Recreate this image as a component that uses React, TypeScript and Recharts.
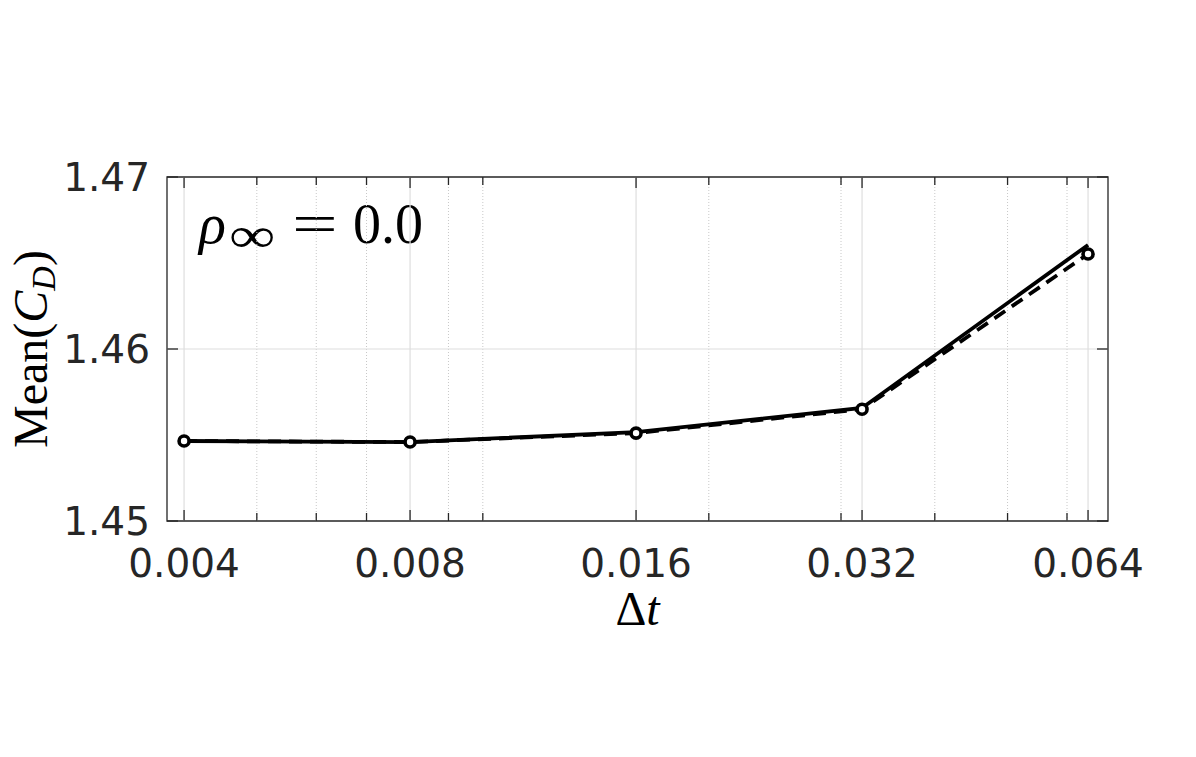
import {
  LineChart,
  Line,
  XAxis,
  YAxis,
  ReferenceLine,
  ReferenceArea,
  Label,
} from "recharts";

// time step sizes (log axis)
const dt = [0.004, 0.008, 0.016, 0.032, 0.064];
// mean drag coefficient, two schemes
const meanCdSolid = [1.45465, 1.45459, 1.45517, 1.45657, 1.46605];
const meanCdDashed = [1.45465, 1.45459, 1.45511, 1.4565, 1.46552];

const xMajorTicks = [0.004, 0.008, 0.016, 0.032, 0.064];
const xMinorTicks = [0.005, 0.006, 0.007, 0.009, 0.01, 0.02, 0.03, 0.04, 0.05, 0.06];
const yTicks = [1.45, 1.46, 1.47];

const X_DOMAIN: [number, number] = [0.003796, 0.06804];
const Y_DOMAIN: [number, number] = [1.45, 1.47];

const W = 1196;
const H = 757;
const MARGIN = { top: 177, right: 88, bottom: 0, left: 0 };
const Y_AXIS_W = 167;
const X_AXIS_H = 236;
const PW = W - MARGIN.right - Y_AXIS_W;
const PH = H - MARGIN.top - X_AXIS_H;

const AXIS = "#262626";
const GRID = "#dedede";
const SANS = "'DejaVu Sans', sans-serif";
const SERIF = "'Liberation Serif', 'DejaVu Serif', serif";

const data = dt.map((x, i) => ({
  dt: x,
  solid: meanCdSolid[i],
  dashed: meanCdDashed[i],
}));

const fmtX = (v: number) => v.toFixed(3);

function XTick(props: any) {
  const { x, y, payload } = props;
  const major = xMajorTicks.includes(payload.value);
  const len = major ? 11 : 8;
  return (
    <g>
      <line x1={x} x2={x} y1={y} y2={y - len} stroke={AXIS} strokeWidth={1.3} />
      <line x1={x} x2={x} y1={y - PH} y2={y - PH + len} stroke={AXIS} strokeWidth={1.3} />
      {major && (
        <text x={x} y={y + 56} textAnchor="middle" fontFamily={SANS} fontSize={39} fill={AXIS}>
          {fmtX(payload.value)}
        </text>
      )}
    </g>
  );
}

function YTick(props: any) {
  const { x, y, payload } = props;
  return (
    <g>
      <line x1={x} x2={x + 11} y1={y} y2={y} stroke={AXIS} strokeWidth={1.3} />
      <line x1={x + PW} x2={x + PW - 11} y1={y} y2={y} stroke={AXIS} strokeWidth={1.3} />
      <text x={x - 17} y={y + 14} textAnchor="end" fontFamily={SANS} fontSize={39} fill={AXIS}>
        {payload.value.toFixed(2)}
      </text>
    </g>
  );
}

function CircleDot(props: any) {
  const { cx, cy } = props;
  return <circle cx={cx} cy={cy} r={5} fill="#fff" stroke="#000" strokeWidth={3.6} />;
}

export default function App() {
  return (
    <div style={{ position: "absolute", left: 0, top: 0, width: W, height: H, background: "#fff" }}>
      <LineChart width={W} height={H} data={data} margin={MARGIN}>
        <XAxis
          dataKey="dt"
          type="number"
          scale="log"
          domain={X_DOMAIN}
          ticks={[...xMajorTicks, ...xMinorTicks]}
          interval={0}
          allowDataOverflow
          height={X_AXIS_H}
          tickSize={0}
          tickMargin={0}
          tickLine={false}
          axisLine={false}
          tick={<XTick />}
        >
          <Label
            content={(p: any) => {
              const vb = p.viewBox;
              const cx = vb.x + vb.width / 2;
              return (
                <text x={cx} y={vb.y + 104} textAnchor="middle" fontFamily={SERIF} fontSize={48} fill="#000">
                  <tspan>Δ</tspan>
                  <tspan fontStyle="italic">t</tspan>
                </text>
              );
            }}
          />
        </XAxis>
        <YAxis
          type="number"
          domain={Y_DOMAIN}
          ticks={yTicks}
          width={Y_AXIS_W}
          tickSize={0}
          tickMargin={0}
          tickLine={false}
          axisLine={false}
          tick={<YTick />}
        >
          <Label
            content={(p: any) => {
              const vb = p.viewBox;
              const cy = vb.y + vb.height / 2;
              return (
                <text
                  x={47}
                  y={cy}
                  transform={`rotate(-90 47 ${cy})`}
                  textAnchor="middle"
                  fontFamily={SERIF}
                  fontSize={48}
                  fill="#000"
                >
                  <tspan>Mean(</tspan>
                  <tspan fontStyle="italic">C</tspan>
                  <tspan fontStyle="italic" fontSize={34} dy={8}>D</tspan>
                  <tspan dy={-8}>)</tspan>
                </text>
              );
            }}
          />
        </YAxis>

        {xMinorTicks.map((v) => (
          <ReferenceLine key={"mn" + v} x={v} stroke="#c8c8c8" strokeWidth={1} strokeDasharray="1 2" />
        ))}
        {xMajorTicks.map((v) => (
          <ReferenceLine key={"mj" + v} x={v} stroke={GRID} strokeWidth={1.2} />
        ))}
        <ReferenceLine y={1.46} stroke={GRID} strokeWidth={1.2} />

        <Line
          dataKey="solid"
          stroke="#000"
          strokeWidth={3.8}
          dot={false}
          isAnimationActive={false}
        />
        <Line
          dataKey="dashed"
          stroke="#000"
          strokeWidth={3.8}
          strokeDasharray="13 8"
          dot={<CircleDot />}
          isAnimationActive={false}
        />

        <ReferenceArea
          x1={X_DOMAIN[0]}
          x2={X_DOMAIN[1]}
          y1={Y_DOMAIN[0]}
          y2={Y_DOMAIN[1]}
          fill="none"
          stroke={AXIS}
          strokeWidth={1.3}
        >
          <Label
            content={(p: any) => {
              const vb = p.viewBox;
              const bx = vb.x;
              const by = vb.y + 66;
              return (
                <g fontFamily={SERIF} fill="#000">
                  <text x={bx + 32} y={by} fontSize={56} fontStyle="italic">ρ</text>
                  <text transform={`translate(${bx + 62} ${by + 9}) scale(1.3 1)`} fontSize={50}>∞</text>
                  <text transform={`translate(${bx + 125} ${by}) scale(1.45 1)`} fontSize={56}>=</text>
                  <text x={bx + 186} y={by} fontSize={56}>0.0</text>
                </g>
              );
            }}
          />
        </ReferenceArea>
      </LineChart>
    </div>
  );
}
